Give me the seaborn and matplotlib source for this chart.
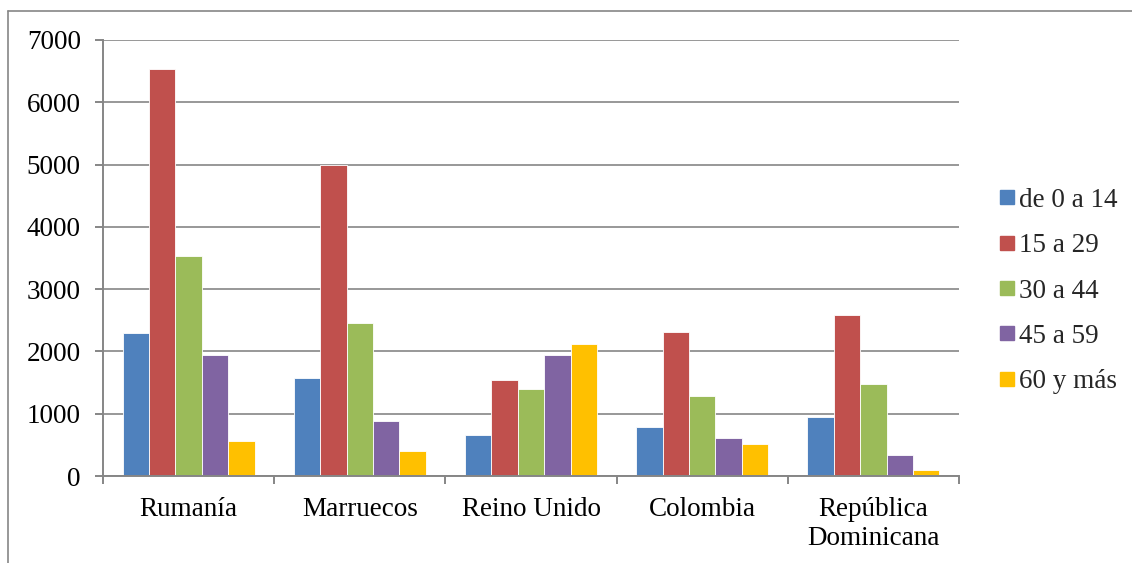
import matplotlib
matplotlib.use("Agg")
import matplotlib.pyplot as plt
from matplotlib.lines import Line2D
import seaborn as sns
import pandas as pd

# Population by age group for each country of origin
countries = ["Rumanía", "Marruecos", "Reino Unido", "Colombia", "República\nDominicana"]
age_groups = ["de 0 a 14", "15 a 29", "30 a 44", "45 a 59", "60 y más"]
de_0_a_14 = [2300, 1580, 666, 790, 947]
de_15_a_29 = [6540, 4990, 1537, 2306, 2580]
de_30_a_44 = [3530, 2460, 1403, 1290, 1484]
de_45_a_59 = [1950, 889, 1947, 613, 334]
de_60_y_mas = [563, 396, 2124, 511, 97]
y_ticks = [0, 1000, 2000, 3000, 4000, 5000, 6000, 7000]

palette = ["#4F81BD", "#C0504D", "#9BBB59", "#8064A2", "#FFC000"]
grid_grey = "#868686"
FS = 19.5

series = [de_0_a_14, de_15_a_29, de_30_a_44, de_45_a_59, de_60_y_mas]
rows = []
for group, values in zip(age_groups, series):
    for country, v in zip(countries, values):
        rows.append({"País": country, "Edad": group, "Valor": v})
df = pd.DataFrame(rows)

sns.set_theme(style="white")
plt.rcParams["font.family"] = ["Liberation Serif", "DejaVu Serif"]

W, H = 1132, 563
fig = plt.figure(figsize=(W / 100, H / 100), dpi=100)
ax = fig.add_axes([103 / W, 1 - 476 / H, (959 - 103) / W, (476 - 40) / H])

sns.barplot(data=df, x="País", y="Valor", hue="Edad", order=countries,
            hue_order=age_groups, palette=palette, width=0.77, gap=0,
            edgecolor="white", linewidth=0.6, saturation=1, ax=ax,
            legend=False)

ax.set_ylim(0, 7000)
ax.set_xlim(-0.5, len(countries) - 0.5)
ax.set_yticks(y_ticks)
ax.set_yticklabels([str(t) for t in y_ticks])
ax.set_xlabel("")
ax.set_ylabel("")

# horizontal gridlines behind bars
ax.set_axisbelow(True)
ax.yaxis.grid(True, color=grid_grey, linewidth=1.2)
ax.xaxis.grid(False)

for side in ["top", "right"]:
    ax.spines[side].set_visible(False)
for side in ["left", "bottom"]:
    ax.spines[side].set_color(grid_grey)
    ax.spines[side].set_linewidth(1.4)

# category separators as minor ticks on the x axis
ax.set_xticks([i - 0.5 for i in range(len(countries) + 1)], minor=True)
ax.tick_params(axis="x", which="minor", length=6, width=1.4, color=grid_grey,
               direction="out", bottom=True)
ax.tick_params(axis="x", which="major", length=0, pad=15, labelsize=FS,
               labelcolor="black")
ax.tick_params(axis="y", which="major", length=6, width=1.4, color=grid_grey,
               direction="out", left=True, pad=10, labelsize=FS,
               labelcolor="black")
for lbl in ax.get_xticklabels():
    lbl.set_linespacing(1.2)

# legend on the right
handles = [Line2D([0], [0], marker="s", linestyle="none", markersize=10.5,
                  markerfacecolor=c, markeredgecolor=c) for c in palette]
fig.legend(handles, age_groups, loc="center left",
           bbox_to_anchor=(1000 / W, 1 - 291 / H), frameon=False,
           fontsize=FS, handlelength=0.55, handletextpad=0.15,
           labelspacing=0.75, borderpad=0, borderaxespad=0)

# outer chart border (top and left edges)
fig.add_artist(Line2D([8 / W, 1.0], [1 - 11 / H, 1 - 11 / H],
                      color=grid_grey, linewidth=1.2, transform=fig.transFigure))
fig.add_artist(Line2D([8 / W, 8 / W], [1 - 11 / H, 0.0],
                      color=grid_grey, linewidth=1.2, transform=fig.transFigure))

fig.savefig("out.png", dpi=100)
